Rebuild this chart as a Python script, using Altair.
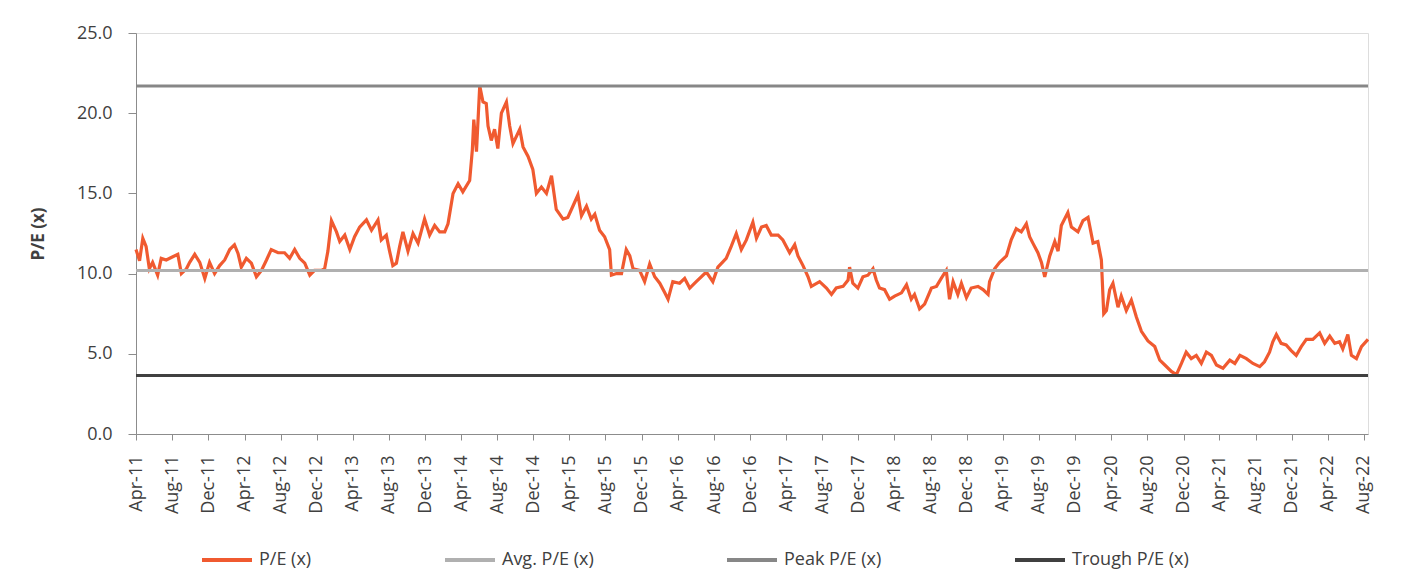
import altair as alt
import pandas as pd

# ---- data ----
dates = [
    "2011-04-01", "2011-04-13", "2011-04-24", "2011-05-05", "2011-05-16", "2011-05-27",
    "2011-06-13", "2011-06-25", "2011-07-12", "2011-08-03", "2011-08-20", "2011-09-01",
    "2011-09-18", "2011-09-29", "2011-10-16", "2011-11-02", "2011-11-19", "2011-12-05",
    "2011-12-22", "2012-01-08", "2012-01-25", "2012-02-11", "2012-02-27", "2012-03-10",
    "2012-03-21", "2012-04-07", "2012-04-24", "2012-05-11", "2012-05-28", "2012-06-14",
    "2012-06-30", "2012-07-23", "2012-08-14", "2012-08-31", "2012-09-17", "2012-10-04",
    "2012-10-21", "2012-11-07", "2012-11-23", "2012-12-16", "2012-12-27", "2013-01-07",
    "2013-01-19", "2013-02-05", "2013-02-16", "2013-03-05", "2013-03-22", "2013-04-07",
    "2013-04-24", "2013-05-17", "2013-06-03", "2013-06-25", "2013-07-06", "2013-07-23",
    "2013-08-03", "2013-08-14", "2013-08-26", "2013-09-06", "2013-09-17", "2013-10-04",
    "2013-10-21", "2013-11-07", "2013-11-29", "2013-12-16", "2014-01-02", "2014-01-19",
    "2014-02-05", "2014-02-16", "2014-03-05", "2014-03-22", "2014-04-07", "2014-04-30",
    "2014-05-09", "2014-05-14", "2014-05-23", "2014-06-03", "2014-06-14", "2014-06-25",
    "2014-07-01", "2014-07-12", "2014-07-23", "2014-08-03", "2014-08-15", "2014-09-01",
    "2014-09-12", "2014-09-23", "2014-10-16", "2014-10-27", "2014-11-13", "2014-11-29",
    "2014-12-11", "2014-12-28", "2015-01-14", "2015-01-31", "2015-02-16", "2015-03-11",
    "2015-03-27", "2015-04-13", "2015-04-30", "2015-05-12", "2015-05-29", "2015-06-14",
    "2015-06-26", "2015-07-12", "2015-07-29", "2015-08-15", "2015-08-21", "2015-09-07",
    "2015-09-24", "2015-10-10", "2015-10-22", "2015-11-02", "2015-11-24", "2015-12-11",
    "2015-12-28", "2016-01-14", "2016-01-31", "2016-02-17", "2016-02-28", "2016-03-15",
    "2016-04-07", "2016-04-24", "2016-05-11", "2016-06-02", "2016-07-06", "2016-07-28",
    "2016-08-14", "2016-09-11", "2016-09-28", "2016-10-15", "2016-11-01", "2016-11-18",
    "2016-12-10", "2016-12-22", "2017-01-08", "2017-01-24", "2017-02-10", "2017-03-05",
    "2017-03-21", "2017-04-13", "2017-04-30", "2017-05-11", "2017-05-28", "2017-06-14",
    "2017-06-25", "2017-07-23", "2017-08-15", "2017-09-01", "2017-09-17", "2017-10-10",
    "2017-10-27", "2017-11-01", "2017-11-12", "2017-11-29", "2017-12-16", "2018-01-02",
    "2018-01-19", "2018-01-30", "2018-02-10", "2018-02-27", "2018-03-16", "2018-04-02",
    "2018-04-25", "2018-05-12", "2018-05-28", "2018-06-08", "2018-06-25", "2018-07-12",
    "2018-08-04", "2018-08-21", "2018-09-06", "2018-09-23", "2018-10-04", "2018-10-16",
    "2018-11-01", "2018-11-13", "2018-11-30", "2018-12-16", "2019-01-08", "2019-01-25",
    "2019-02-11", "2019-02-16", "2019-03-05", "2019-03-22", "2019-04-14", "2019-04-30",
    "2019-05-17", "2019-06-03", "2019-06-20", "2019-07-01", "2019-07-12", "2019-07-29",
    "2019-08-10", "2019-08-21", "2019-09-07", "2019-09-24", "2019-10-05", "2019-10-16",
    "2019-11-07", "2019-11-19", "2019-12-11", "2019-12-28", "2020-01-14", "2020-01-31",
    "2020-02-16", "2020-02-28", "2020-03-07", "2020-03-16", "2020-03-27", "2020-04-07",
    "2020-04-24", "2020-05-05", "2020-05-22", "2020-06-08", "2020-06-25", "2020-07-12",
    "2020-08-03", "2020-08-26", "2020-09-12", "2020-09-29", "2020-10-21", "2020-11-07",
    "2020-11-24", "2020-12-10", "2020-12-27", "2021-01-13", "2021-01-30", "2021-02-16",
    "2021-03-05", "2021-03-22", "2021-04-13", "2021-05-06", "2021-05-23", "2021-06-09",
    "2021-07-01", "2021-07-23", "2021-08-15", "2021-08-31", "2021-09-17", "2021-09-28",
    "2021-10-10", "2021-10-26", "2021-11-12", "2021-11-29", "2021-12-16", "2022-01-02",
    "2022-01-19", "2022-02-10", "2022-03-05", "2022-03-22", "2022-04-08", "2022-04-25",
    "2022-05-11", "2022-05-22", "2022-06-08", "2022-06-20", "2022-07-07", "2022-07-24",
    "2022-08-15",
]
pe = [
    11.5, 10.8, 12.2, 11.7, 10.3, 10.7,
    9.9, 10.95, 10.85, 11.05, 11.2, 10.0,
    10.3, 10.7, 11.2, 10.7, 9.7, 10.7,
    10.0, 10.5, 10.85, 11.5, 11.8, 11.26,
    10.4, 10.95, 10.65, 9.8, 10.2, 10.85,
    11.5, 11.3, 11.3, 10.95, 11.5, 10.95,
    10.65, 9.9, 10.2, 10.2, 10.3, 11.4,
    13.3, 12.6, 12.0, 12.4, 11.5, 12.3,
    12.9, 13.35, 12.7, 13.35, 12.1, 12.4,
    11.4, 10.5, 10.65, 11.7, 12.6, 11.4,
    12.5, 11.9, 13.4, 12.4, 13.0, 12.6,
    12.6, 13.1, 15.0, 15.6, 15.1, 15.8,
    17.7, 19.6, 17.6, 21.7, 20.7, 20.6,
    19.2, 18.3, 19.0, 17.8, 20.0, 20.7,
    19.2, 18.1, 19.0, 17.9, 17.3, 16.5,
    15.0, 15.4, 15.0, 16.1, 14.0, 13.4,
    13.5, 14.2, 14.9, 13.6, 14.2, 13.4,
    13.7, 12.7, 12.3, 11.5, 9.9, 10.0,
    10.0, 11.5, 11.1, 10.3, 10.2, 9.5,
    10.6, 9.8, 9.4, 8.8, 8.4, 9.5,
    9.4, 9.7, 9.1, 9.5, 10.1, 9.5,
    10.4, 10.95, 11.7, 12.5, 11.5, 12.1,
    13.2, 12.2, 12.9, 13.0, 12.4, 12.4,
    12.1, 11.3, 11.8, 11.1, 10.5, 9.8,
    9.2, 9.5, 9.1, 8.7, 9.1, 9.2,
    9.6, 10.4, 9.4, 9.1, 9.8, 9.9,
    10.3, 9.6, 9.1, 9.0, 8.4, 8.6,
    8.8, 9.3, 8.4, 8.7, 7.8, 8.1,
    9.1, 9.2, 9.7, 10.2, 8.4, 9.5,
    8.7, 9.4, 8.5, 9.1, 9.2, 9.0,
    8.7, 9.5, 10.3, 10.7, 11.1, 12.1,
    12.8, 12.6, 13.1, 12.3, 11.9, 11.3,
    10.7, 9.8, 11.1, 12.0, 11.4, 13.0,
    13.8, 12.9, 12.6, 13.3, 13.5, 11.9,
    12.0, 10.85, 7.5, 7.7, 9.0, 9.4,
    7.9, 8.6, 7.7, 8.35, 7.3, 6.4,
    5.8, 5.45, 4.6, 4.3, 3.9, 3.7,
    4.4, 5.1, 4.7, 4.9, 4.4, 5.1,
    4.9, 4.3, 4.1, 4.6, 4.4, 4.9,
    4.7, 4.4, 4.2, 4.5, 5.1, 5.75,
    6.2, 5.65, 5.55, 5.2, 4.9, 5.45,
    5.9, 5.9, 6.3, 5.65, 6.1, 5.65,
    5.75, 5.3, 6.2, 4.9, 4.7, 5.45,
    5.9,
]
avg_pe = 10.2
peak_pe = 21.7
trough_pe = 3.65

series_names = ["P/E (x)", "Avg. P/E (x)", "Peak P/E (x)", "Trough P/E (x)"]
series_colors = ["#F05A30", "#B0B0B0", "#878787", "#404040"]

tick_years_months = [
    (2011, 4), (2011, 8), (2011, 12), (2012, 4), (2012, 8), (2012, 12),
    (2013, 4), (2013, 8), (2013, 12), (2014, 4), (2014, 8), (2014, 12),
    (2015, 4), (2015, 8), (2015, 12), (2016, 4), (2016, 8), (2016, 12),
    (2017, 4), (2017, 8), (2017, 12), (2018, 4), (2018, 8), (2018, 12),
    (2019, 4), (2019, 8), (2019, 12), (2020, 4), (2020, 8), (2020, 12),
    (2021, 4), (2021, 8), (2021, 12), (2022, 4), (2022, 8),
]
y_ticks = [0, 5, 10, 15, 20, 25]

FONT = "Open Sans"
TEXT = "#404040"
AXIS = "#8C8C8C"

line_df = pd.DataFrame({
    "date": [d + "T00:00:00" for d in dates],
    "pe": pe,
    "series": series_names[0],
})
rule_df = pd.DataFrame({
    "series": series_names[1:],
    "pe": [avg_pe, peak_pe, trough_pe],
})

color = alt.Color(
    "series:N",
    scale=alt.Scale(domain=series_names, range=series_colors),
    legend=alt.Legend(
        title=None,
        orient="none",
        legendX=64,
        legendY=500,
        direction="horizontal",
        symbolType="stroke",
        symbolSize=2500,
        symbolStrokeWidth=4,
        labelFont=FONT,
        labelFontSize=18,
        labelColor=TEXT,
        labelOffset=5,
        labelLimit=300,
        columnPadding=125,
    ),
)

y = alt.Y(
    "pe:Q",
    scale=alt.Scale(domain=[0, 25], nice=False),
    axis=alt.Axis(
        values=y_ticks,
        format=".1f",
        title="P/E (x)",
        titleFont=FONT,
        titleFontSize=17,
        titleFontWeight="bold",
        titleColor=TEXT,
        titlePadding=29,
        labelFont=FONT,
        labelFontSize=18,
        labelColor=TEXT,
        labelPadding=16,
        domainColor=AXIS,
        tickColor=AXIS,
        tickSize=8,
        grid=False,
    ),
)

x = alt.X(
    "date:T",
    scale=alt.Scale(
        domain=[alt.DateTime(year=2011, month=4, date=1),
                alt.DateTime(year=2022, month=8, date=15)],
        nice=False,
    ),
    axis=alt.Axis(
        values=[alt.DateTime(year=yy, month=mm, date=1) for yy, mm in tick_years_months],
        format="%b-%y",
        labelAngle=-90,
        labelAlign="right",
        labelBaseline="middle",
        labelFont=FONT,
        labelFontSize=18,
        labelColor=TEXT,
        labelPadding=15,
        labelOverlap=False,
        domainColor=AXIS,
        tickColor=AXIS,
        tickSize=6,
        grid=False,
        title=None,
    ),
)

pe_line = alt.Chart(line_df).mark_line(strokeWidth=3.2).encode(x=x, y=y, color=color)
rules = alt.Chart(rule_df).mark_rule(strokeWidth=3).encode(y=alt.Y("pe:Q"), color=color)

chart = alt.layer(pe_line, rules).properties(
    width=1232,
    height=401,
    padding={"left": 128, "top": 25, "right": 36, "bottom": 135},
    autosize=alt.AutoSizeParams(type="none"),
).configure_view(stroke=None).configure(background="white")

chart.save("out.html", embed_options={"renderer": "svg", "actions": False})
